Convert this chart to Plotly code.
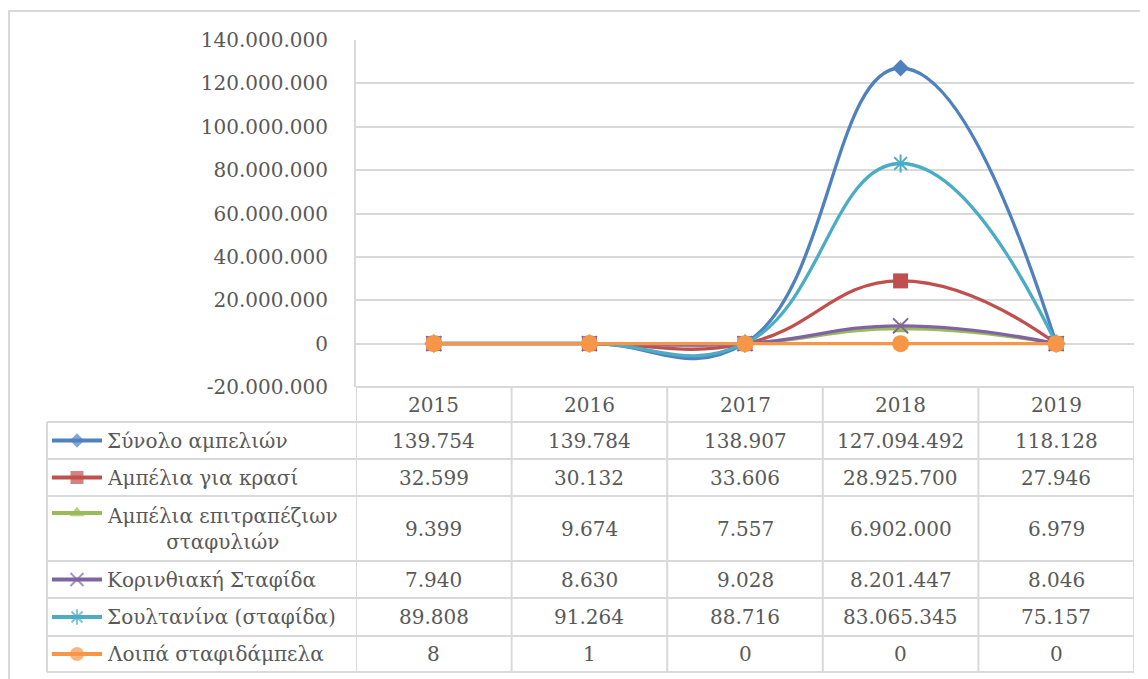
import plotly.graph_objects as go

# ---------------- data ----------------
years = ["2015", "2016", "2017", "2018", "2019"]
series_names = [
    "Σύνολο αμπελιών",
    "Αμπέλια για κρασί",
    "Αμπέλια επιτραπέζιων<br>σταφυλιών",
    "Κορινθιακή Σταφίδα",
    "Σουλτανίνα (σταφίδα)",
    "Λοιπά σταφιδάμπελα",
]
total_vineyards = [139754, 139784, 138907, 127094492, 118128]
wine_vineyards = [32599, 30132, 33606, 28925700, 27946]
table_grape_vineyards = [9399, 9674, 7557, 6902000, 6979]
corinthian_raisin = [7940, 8630, 9028, 8201447, 8046]
sultanina_raisin = [89808, 91264, 88716, 83065345, 75157]
other_raisin_vines = [8, 1, 0, 0, 0]
series_values = [total_vineyards, wine_vineyards, table_grape_vineyards,
                 corinthian_raisin, sultanina_raisin, other_raisin_vines]
y_tick_values = [-20000000, 0, 20000000, 40000000, 60000000, 80000000,
                 100000000, 120000000, 140000000]

# ---------------- styles ----------------
colors = ["#4F81BD", "#C0504D", "#9BBB59", "#8064A2", "#4BACC6", "#F79646"]
symbols = ["diamond", "square", "triangle-up", "x-thin-open", "asterisk-open", "circle"]
msizes = [13, 15, 14, 15, 15, 17]
lsizes = [11, 13, 13, 13, 13, 14]
FONT = "DejaVu Serif"
FS = 20
TXT = "#595959"
GRID = "#D9D9D9"

# page has an 8px body margin: the figure starts at screen (8, 8)
OFF = 8
W, H = 1148 - OFF, 679 - OFF
PX_L, PX_R, PX_T, PX_B = 356, 1134, 40, 387
TABLE_LEFT = 47
row_bounds = [387, 422, 459, 496, 561, 598, 636, 672]


def fx(px):
    return (px - OFF) / W


def fy(py):
    return 1 - (py - OFF) / H


def fmt(v):
    return f"{v:,}".replace(",", ".")


fig = go.Figure()

# main smoothed lines
for name, vals, c, s, ms in zip(series_names, series_values, colors, symbols, msizes):
    open_sym = s.endswith("-open")
    fig.add_trace(go.Scatter(
        x=list(range(len(years))), y=vals, name=name.replace("<br>", " "),
        mode="lines+markers",
        line=dict(color=c, width=3.3, shape="spline", smoothing=1.3),
        marker=dict(symbol=s, size=ms, color=c,
                    line=dict(color=c, width=2 if open_sym else 0)),
        showlegend=False, cliponaxis=False,
    ))

# legend key glyphs in the table's first column (hidden axes x2/y2, screen-pixel units)
row_centers = [(row_bounds[i] + row_bounds[i + 1]) / 2 for i in range(len(row_bounds) - 1)]
for i, (name, c, s, ms) in enumerate(zip(series_names, colors, symbols, lsizes)):
    cy = row_centers[i + 1]
    if i == 2:
        cy = row_bounds[3] + 17
    open_sym = s.endswith("-open")
    fig.add_trace(go.Scatter(
        x=[0, 0.5, 1], y=[cy, cy, cy], xaxis="x2", yaxis="y2",
        mode="lines+markers",
        line=dict(color=c, width=4),
        marker=dict(symbol=s, size=[0, ms, 0], color=c,
                    line=dict(color=c, width=2 if open_sym else 0)),
        showlegend=False, hoverinfo="skip",
    ))

shapes = []
line_style = dict(color=GRID, width=2)
# outer chart border (left/top visible)
shapes.append(dict(type="rect", xref="paper", yref="paper",
                   x0=fx(9), x1=1.02, y0=-0.02, y1=fy(11), line=line_style))
# table vertical lines on category boundaries
for i in range(len(years) + 1):
    shapes.append(dict(type="line", xref="x", yref="paper",
                       x0=i - 0.5, x1=i - 0.5, y0=fy(row_bounds[0]), y1=fy(row_bounds[-1]),
                       line=line_style))
# table left edge
shapes.append(dict(type="line", xref="paper", yref="paper",
                   x0=fx(TABLE_LEFT), x1=fx(TABLE_LEFT), y0=fy(row_bounds[1]), y1=fy(row_bounds[-1]),
                   line=line_style))
# horizontal lines
shapes.append(dict(type="line", xref="paper", yref="paper",
                   x0=fx(PX_L), x1=fx(PX_R), y0=fy(row_bounds[0]), y1=fy(row_bounds[0]),
                   line=line_style))
for b in row_bounds[1:]:
    shapes.append(dict(type="line", xref="paper", yref="paper",
                       x0=fx(TABLE_LEFT), x1=fx(PX_R), y0=fy(b), y1=fy(b),
                       line=line_style))

annotations = []
tfont = dict(family=FONT, size=FS, color=TXT)
# year headers
for j, yr in enumerate(years):
    annotations.append(dict(x=j, xref="x", y=fy(row_centers[0]), yref="paper",
                            text=yr, showarrow=False, font=tfont,
                            xanchor="center", yanchor="middle"))
# values and series names
for i, (name, vals) in enumerate(zip(series_names, series_values)):
    cy = fy(row_centers[i + 1])
    annotations.append(dict(x=fx(105), xref="paper", y=cy, yref="paper",
                            text=name, showarrow=False, font=tfont,
                            xanchor="left", yanchor="middle", align="center"))
    for j, v in enumerate(vals):
        annotations.append(dict(x=j, xref="x", y=cy, yref="paper",
                                text=fmt(v), showarrow=False, font=tfont,
                                xanchor="center", yanchor="middle"))

fig.update_layout(
    template="none",
    width=W, height=H, autosize=False,
    margin=dict(l=0, r=0, t=0, b=0, pad=0, autoexpand=False),
    paper_bgcolor="white", plot_bgcolor="white",
    font=dict(family=FONT, size=FS, color=TXT),
    xaxis=dict(domain=[fx(PX_L), fx(PX_R)], range=[-0.5, 4.5],
               showticklabels=False, showgrid=False, zeroline=False, showline=False,
               ticks="", automargin=False, fixedrange=True),
    yaxis=dict(domain=[fy(PX_B), fy(PX_T)], range=[-20000000, 140000000],
               tickvals=y_tick_values, ticktext=[fmt(v) for v in y_tick_values],
               showgrid=True, gridcolor=GRID, gridwidth=2,
               zeroline=False, showline=True, linecolor=GRID, linewidth=2,
               ticks="", ticklabelstandoff=22, automargin=False,
               tickfont=dict(family=FONT, size=FS, color=TXT), fixedrange=True),
    xaxis2=dict(domain=[fx(52), fx(102)], range=[0, 1], anchor="y2", visible=False,
                automargin=False, fixedrange=True),
    yaxis2=dict(domain=[0, 1], range=[679, OFF], anchor="x2", visible=False,
                automargin=False, fixedrange=True),
    shapes=shapes,
    annotations=annotations,
)

fig.write_html("out.html")
